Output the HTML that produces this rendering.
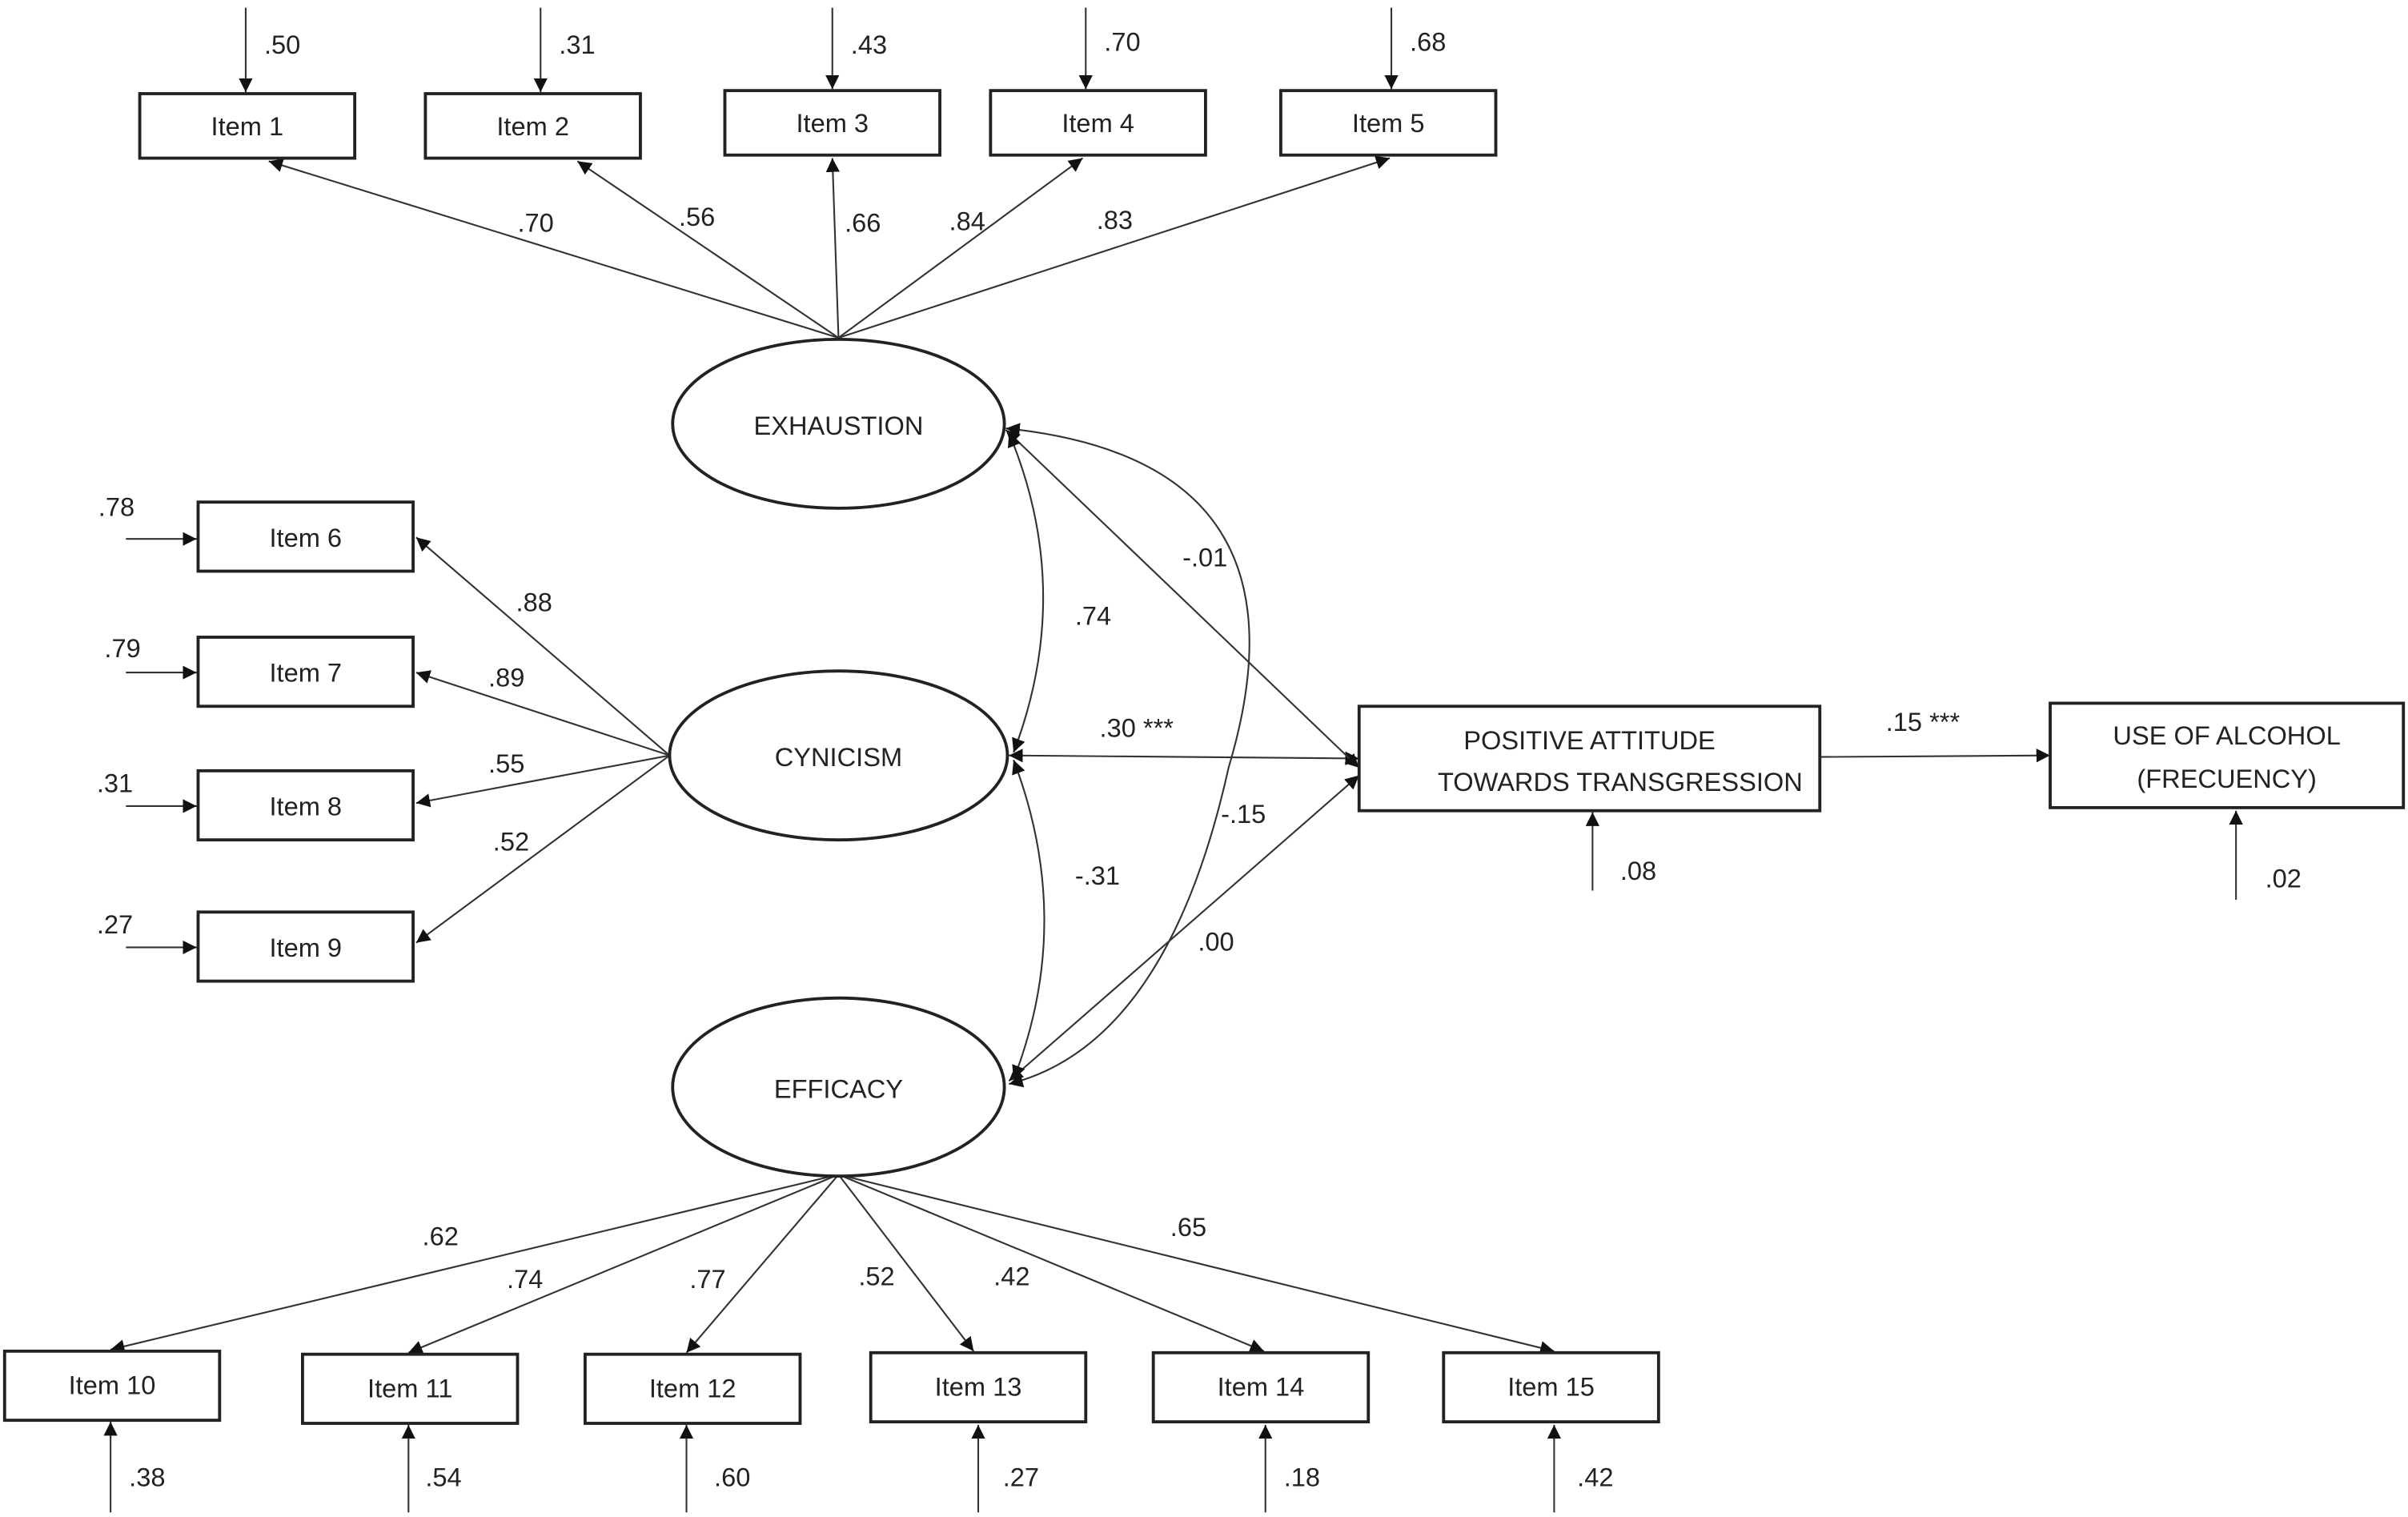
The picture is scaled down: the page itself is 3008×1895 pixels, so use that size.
<!DOCTYPE html>
<html><head><meta charset="utf-8"><style>
html,body{margin:0;padding:0;background:#fff}
svg{display:block}
text{font-family:"Liberation Sans",sans-serif;font-size:17px;fill:#222}
</style></head><body>
<svg width="3008" height="1895" viewBox="0 0 1568 988" preserveAspectRatio="none" xmlns="http://www.w3.org/2000/svg">
<defs>
<marker id="a" viewBox="0 0 10 10" refX="10" refY="5" markerWidth="9" markerHeight="9" markerUnits="userSpaceOnUse" orient="auto-start-reverse"><path d="M0,0L10,5L0,10z" fill="#111"/></marker>
</defs>
<g fill="none" stroke="#333" stroke-width="1.1">
<!-- top errors -->
<line x1="160" y1="5" x2="160" y2="60" marker-end="url(#a)"/>
<line x1="352" y1="5" x2="352" y2="60" marker-end="url(#a)"/>
<line x1="542" y1="5" x2="542" y2="58" marker-end="url(#a)"/>
<line x1="707" y1="5" x2="707" y2="58" marker-end="url(#a)"/>
<line x1="906" y1="5" x2="906" y2="58" marker-end="url(#a)"/>
<!-- exhaustion loadings -->
<line x1="546" y1="220" x2="175" y2="105" marker-end="url(#a)"/>
<line x1="546" y1="220" x2="376" y2="105" marker-end="url(#a)"/>
<line x1="546" y1="220" x2="542" y2="103" marker-end="url(#a)"/>
<line x1="546" y1="220" x2="705" y2="103" marker-end="url(#a)"/>
<line x1="546" y1="220" x2="905" y2="103" marker-end="url(#a)"/>
<!-- left errors -->
<line x1="82" y1="351" x2="128" y2="351" marker-end="url(#a)"/>
<line x1="82" y1="438" x2="128" y2="438" marker-end="url(#a)"/>
<line x1="82" y1="525" x2="128" y2="525" marker-end="url(#a)"/>
<line x1="82" y1="617" x2="128" y2="617" marker-end="url(#a)"/>
<!-- cynicism loadings -->
<line x1="436" y1="492" x2="271" y2="350" marker-end="url(#a)"/>
<line x1="436" y1="492" x2="271" y2="438" marker-end="url(#a)"/>
<line x1="436" y1="492" x2="271" y2="523" marker-end="url(#a)"/>
<line x1="436" y1="492" x2="271" y2="614" marker-end="url(#a)"/>
<!-- efficacy loadings -->
<line x1="546" y1="765" x2="72" y2="879" marker-end="url(#a)"/>
<line x1="546" y1="765" x2="266" y2="881" marker-end="url(#a)"/>
<line x1="546" y1="765" x2="447" y2="881" marker-end="url(#a)"/>
<line x1="546" y1="765" x2="634" y2="880" marker-end="url(#a)"/>
<line x1="546" y1="765" x2="823" y2="880" marker-end="url(#a)"/>
<line x1="546" y1="765" x2="1012" y2="880" marker-end="url(#a)"/>
<!-- bottom errors -->
<line x1="72" y1="985" x2="72" y2="926" marker-end="url(#a)"/>
<line x1="266" y1="985" x2="266" y2="928" marker-end="url(#a)"/>
<line x1="447" y1="985" x2="447" y2="928" marker-end="url(#a)"/>
<line x1="637" y1="985" x2="637" y2="928" marker-end="url(#a)"/>
<line x1="824" y1="985" x2="824" y2="928" marker-end="url(#a)"/>
<line x1="1012" y1="985" x2="1012" y2="928" marker-end="url(#a)"/>
<!-- structural -->
<line x1="657" y1="492" x2="885" y2="494" marker-start="url(#a)" marker-end="url(#a)"/>
<line x1="655" y1="280" x2="885" y2="500" marker-start="url(#a)" marker-end="url(#a)"/>
<line x1="657" y1="704" x2="885" y2="505" marker-start="url(#a)" marker-end="url(#a)"/>
<line x1="1185" y1="493" x2="1335" y2="492" marker-end="url(#a)"/>
<line x1="1037" y1="580" x2="1037" y2="529" marker-end="url(#a)"/>
<line x1="1456" y1="586" x2="1456" y2="528" marker-end="url(#a)"/>
<!-- correlations -->
<path d="M657,282 Q700,385 660,490" marker-start="url(#a)" marker-end="url(#a)"/>
<path d="M660,495 Q700,600 660,703" marker-start="url(#a)" marker-end="url(#a)"/>
<path d="M655,279 Q860,300 800,500 Q760,680 657,706" marker-start="url(#a)" marker-end="url(#a)"/>
</g>
<g fill="#fff" stroke="#222" stroke-width="2">
<rect x="91" y="61" width="140" height="42"/>
<rect x="277" y="61" width="140" height="42"/>
<rect x="472" y="59" width="140" height="42"/>
<rect x="645" y="59" width="140" height="42"/>
<rect x="834" y="59" width="140" height="42"/>
<rect x="129" y="327" width="140" height="45"/>
<rect x="129" y="415" width="140" height="45"/>
<rect x="129" y="502" width="140" height="45"/>
<rect x="129" y="594" width="140" height="45"/>
<rect x="3" y="880" width="140" height="45"/>
<rect x="197" y="882" width="140" height="45"/>
<rect x="381" y="882" width="140" height="45"/>
<rect x="567" y="881" width="140" height="45"/>
<rect x="751" y="881" width="140" height="45"/>
<rect x="940" y="881" width="140" height="45"/>
<rect x="885" y="460" width="300" height="68"/>
<rect x="1335" y="458" width="230" height="68"/>
<ellipse cx="546" cy="276" rx="108" ry="55"/>
<ellipse cx="546" cy="492" rx="110" ry="55"/>
<ellipse cx="546" cy="708" rx="108" ry="58"/>
</g>
<g text-anchor="middle">
<text x="161" y="88">Item 1</text><text x="347" y="88">Item 2</text><text x="542" y="86">Item 3</text><text x="715" y="86">Item 4</text><text x="904" y="86">Item 5</text>
<text x="199" y="356">Item 6</text><text x="199" y="444">Item 7</text><text x="199" y="531">Item 8</text><text x="199" y="623">Item 9</text>
<text x="73" y="908">Item 10</text><text x="267" y="910">Item 11</text><text x="451" y="910">Item 12</text><text x="637" y="909">Item 13</text><text x="821" y="909">Item 14</text><text x="1010" y="909">Item 15</text>
<text x="546" y="283">EXHAUSTION</text><text x="546" y="499">CYNICISM</text><text x="546" y="715">EFFICACY</text>
<text x="1035" y="488">POSITIVE ATTITUDE</text><text x="1055" y="515">TOWARDS TRANSGRESSION</text>
<text x="1450" y="485">USE OF ALCOHOL</text><text x="1450" y="513">(FRECUENCY)</text>
</g>
<g>
<text x="172" y="35">.50</text><text x="364" y="35">.31</text><text x="554" y="35">.43</text><text x="719" y="33">.70</text><text x="918" y="33">.68</text>
<text x="337" y="151">.70</text><text x="442" y="147">.56</text><text x="550" y="151">.66</text><text x="618" y="150">.84</text><text x="714" y="149">.83</text>
<text x="64" y="336">.78</text><text x="68" y="428">.79</text><text x="63" y="516">.31</text><text x="63" y="608">.27</text>
<text x="336" y="398">.88</text><text x="318" y="447">.89</text><text x="318" y="503">.55</text><text x="321" y="554">.52</text>
<text x="275" y="811">.62</text><text x="330" y="839">.74</text><text x="449" y="839">.77</text><text x="559" y="837">.52</text><text x="647" y="837">.42</text><text x="762" y="805">.65</text>
<text x="84" y="968">.38</text><text x="277" y="968">.54</text><text x="465" y="968">.60</text><text x="653" y="968">.27</text><text x="836" y="968">.18</text><text x="1027" y="968">.42</text>
<text x="700" y="407">.74</text><text x="770" y="369">-.01</text><text x="716" y="480">.30 ***</text><text x="795" y="536">-.15</text><text x="700" y="576">-.31</text><text x="780" y="619">.00</text>
<text x="1228" y="476">.15 ***</text><text x="1055" y="573">.08</text><text x="1475" y="578">.02</text>
</g>
</svg>
</body></html>
